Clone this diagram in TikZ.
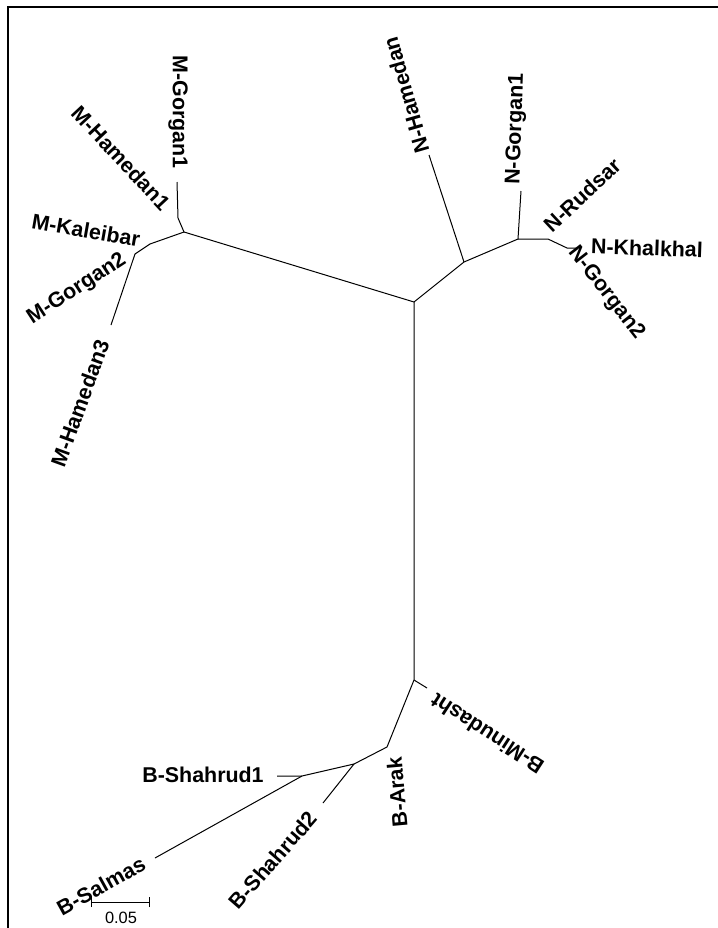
\documentclass[tikz,border=0pt]{standalone}
\usepackage{fontspec}
\setmainfont{Liberation Sans}
\usepackage{tikz}
\usetikzlibrary{positioning}
\tikzset{
  taxon/.style={font=\fontsize{10.7}{12}\selectfont\bfseries, inner sep=0pt},
  branch/.style={line width=0.5pt, color=black, line join=round},
  scalebar/.style={line width=0.5pt, color=black},
  frameline/.style={line width=1pt, color=black}
}

\begin{document}
\begin{tikzpicture}[x=0.5pt, y=-0.5pt]
  \useasboundingbox (0,0) rectangle (718,928);
  \draw[frameline] (8,928) -- (8,7) -- (718,7);

  % internal nodes of the tree
  \coordinate (root) at (414,302);
  \coordinate (n1) at (464,262);
  \coordinate (n2) at (518,239);
  \coordinate (n3) at (548,239);
  \coordinate (n4) at (567,248);
  \coordinate (m1) at (184,232);
  \coordinate (m2) at (178,218);
  \coordinate (m3) at (150,244);
  \coordinate (m4) at (135,254);
  \coordinate (b1) at (414,680);
  \coordinate (b2) at (387,747);
  \coordinate (b3) at (354,764);
  \coordinate (b4) at (302,776);

  % branch tips
  \coordinate (tipNHamedan) at (429,155);
  \coordinate (tipNGorgan1) at (521,191);
  \coordinate (tipNKhalkhal) at (577,248);
  \coordinate (tipMGorgan1) at (177,182);
  \coordinate (tipMHamedan3) at (111,325);
  \coordinate (tipBMinudasht) at (427,688);
  \coordinate (tipBShahrud2) at (323,803);
  \coordinate (tipBShahrud1) at (277,776);
  \coordinate (tipBSalmas) at (155,858);

  % N group
  \draw[branch] (root) -- (n1) -- (tipNHamedan);
  \draw[branch] (n1) -- (n2) -- (tipNGorgan1);
  \draw[branch] (n2) -- (n3) -- (n4) -- (tipNKhalkhal);
  % M group
  \draw[branch] (root) -- (m1) -- (m2) -- (tipMGorgan1);
  \draw[branch] (m1) -- (m3) -- (m4) -- (tipMHamedan3);
  % B group
  \draw[branch] (root) -- (b1) -- (tipBMinudasht);
  \draw[branch] (b1) -- (b2) -- (b3) -- (tipBShahrud2);
  \draw[branch] (b3) -- (b4) -- (tipBShahrud1);
  \draw[branch] (b4) -- (tipBSalmas);

  % taxon labels
  \node[taxon, rotate=106] (lNHamedan) at (406,95) {N-Hamedan};
  \node[taxon, rotate=88] (lNGorgan1) at (516,129) {N-Gorgan1};
  \node[taxon, rotate=43] (lNRudsar) at (582,195) {N-Rudsar};
  \node[taxon, rotate=-2] (lNKhalkhal) at (647,248) {N-Khalkhal};
  \node[taxon, rotate=-52] (lNGorgan2) at (606,293) {N-Gorgan2};
  \node[taxon, rotate=-90] (lMGorgan1) at (178,112) {M-Gorgan1};
  \node[taxon, rotate=-47] (lMHamedan1) at (121,158) {M-Hamedan1};
  \node[taxon, rotate=-10] (lMKaleibar) at (86,230) {M-Kaleibar};
  \node[taxon, rotate=33] (lMGorgan2) at (77,289) {M-Gorgan2};
  \node[taxon, rotate=70] (lMHamedan3) at (80,403) {M-Hamedan3};
  \node[taxon, rotate=147] (lBMinudasht) at (487,734) {B-Minudasht};
  \node[taxon, rotate=95] (lBArak) at (397,792) {B-Arak};
  \node[taxon, rotate=49] (lBShahrud2) at (273,860) {B-Shahrud2};
  \node[taxon] (lBShahrud1) at (203,775) {B-Shahrud1};
  \node[taxon, rotate=29] (lBSalmas) at (101,886) {B-Salmas};

  % scale bar
  \coordinate (sbL) at (91,902);
  \coordinate (sbR) at (149,902);
  \draw[scalebar] (sbL) -- (sbR);
  \draw[scalebar] ([yshift=-2.5pt]sbL) -- ([yshift=2.5pt]sbL);
  \draw[scalebar] ([yshift=-2.5pt]sbR) -- ([yshift=2.5pt]sbR);
  \node[font=\fontsize{8.2}{10}\selectfont, inner sep=0pt] (sbText) at (121,918) {0.05};
\end{tikzpicture}
\end{document}
